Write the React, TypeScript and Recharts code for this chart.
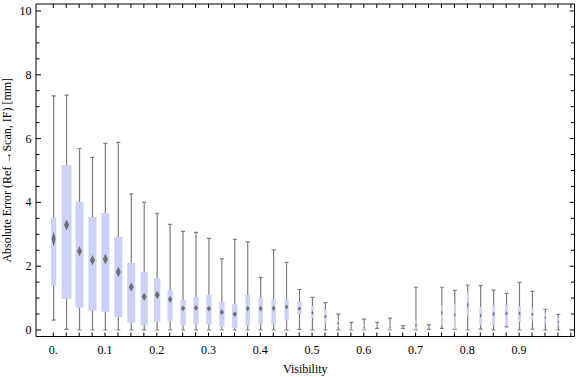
import React from 'react';
import { ComposedChart, Bar, XAxis, YAxis } from 'recharts';

const visibility = [0, 0.025, 0.05, 0.075, 0.1, 0.125, 0.15, 0.175, 0.2, 0.225, 0.25, 0.275, 0.3, 0.325, 0.35, 0.375, 0.4, 0.425, 0.45, 0.475, 0.5, 0.525, 0.55, 0.575, 0.6, 0.625, 0.65, 0.675, 0.7, 0.725, 0.75, 0.775, 0.8, 0.825, 0.85, 0.875, 0.9, 0.925, 0.95, 0.975];

const whiskerLow = [0.31, 0.02, 0, 0, 0, 0, 0, 0, 0, 0, 0, 0, 0, 0, 0, 0, 0, 0, 0, 0.02, 0, 0, 0, 0, 0, 0.05, 0, 0.05, 0, 0.02, 0.05, 0.02, 0, 0.03, 0, 0.1, 0, 0.03, 0, 0];
const quartileLow = [1.39, 0.97, 0.7, 0.61, 0.57, 0.41, 0.23, 0.16, 0.26, 0.29, 0.14, 0.17, 0.17, 0.1, 0.07, 0.14, 0.17, 0.17, 0.29, 0.51, 0.37, 0.2, 0.1, 0.02, 0.0, 0.09, 0.0, 0.07, 0.0, 0.05, 0.16, 0.02, 0.45, 0.16, 0.14, 0.13, 0.26, 0.29, 0.23, 0.16];
const meanValue = [2.85, 3.29, 2.47, 2.19, 2.22, 1.82, 1.35, 1.04, 1.1, 0.96, 0.68, 0.69, 0.67, 0.56, 0.5, 0.67, 0.67, 0.68, 0.72, 0.67, 0.54, 0.42, 0.21, 0.07, 0.08, 0.12, 0.08, 0.1, 0.15, 0.08, 0.54, 0.47, 0.78, 0.45, 0.5, 0.52, 0.52, 0.49, 0.39, 0.26];
const quartileHigh = [3.52, 5.17, 4.01, 3.54, 3.67, 2.92, 2.1, 1.82, 1.63, 1.25, 0.94, 1.03, 1.1, 0.88, 0.82, 1.1, 1.03, 0.97, 0.97, 0.88, 0.75, 0.63, 0.33, 0.14, 0.18, 0.15, 0.18, 0.12, 0.31, 0.12, 0.78, 0.82, 1.18, 0.72, 0.78, 0.78, 0.75, 0.68, 0.54, 0.39];
const whiskerHigh = [7.34, 7.36, 5.69, 5.41, 5.85, 5.88, 4.27, 4.0, 3.66, 3.31, 3.09, 3.06, 2.87, 2.23, 2.84, 2.76, 1.65, 2.51, 2.12, 1.27, 1.02, 0.86, 0.5, 0.24, 0.34, 0.24, 0.37, 0.14, 1.34, 0.16, 1.34, 1.24, 1.41, 1.39, 1.25, 1.15, 1.49, 1.21, 0.65, 0.49];
const meanHalfCI = [0.24, 0.17, 0.16, 0.16, 0.17, 0.17, 0.14, 0.13, 0.13, 0.11, 0.09, 0.09, 0.09, 0.09, 0.09, 0.09, 0.09, 0.09, 0.08, 0.07, 0.06, 0.06, 0.05, 0.04, 0.04, 0.03, 0.04, 0.02, 0.06, 0.02, 0.08, 0.08, 0.1, 0.07, 0.07, 0.07, 0.06, 0.06, 0.05, 0.04];
// relative sample size (box width as a fraction of bin spacing)
const sampleWeight = [0.44, 0.85, 0.69, 0.69, 0.69, 0.69, 0.69, 0.62, 0.54, 0.46, 0.46, 0.46, 0.46, 0.46, 0.46, 0.38, 0.38, 0.38, 0.38, 0.36, 0.23, 0.23, 0.15, 0.12, 0.12, 0.08, 0.12, 0.08, 0.12, 0.08, 0.15, 0.15, 0.18, 0.21, 0.23, 0.23, 0.25, 0.18, 0.15, 0.18];

const xTicks = [0, 0.025, 0.05, 0.075, 0.1, 0.125, 0.15, 0.175, 0.2, 0.225, 0.25, 0.275, 0.3, 0.325, 0.35, 0.375, 0.4, 0.425, 0.45, 0.475, 0.5, 0.525, 0.55, 0.575, 0.6, 0.625, 0.65, 0.675, 0.7, 0.725, 0.75, 0.775, 0.8, 0.825, 0.85, 0.875, 0.9, 0.925, 0.95, 0.975, 1.0];
const xLabelTicks = [0, 0.1, 0.2, 0.3, 0.4, 0.5, 0.6, 0.7, 0.8, 0.9];
const yTicks = [0, 0.5, 1, 1.5, 2, 2.5, 3, 3.5, 4, 4.5, 5, 5.5, 6, 6.5, 7, 7.5, 8, 8.5, 9, 9.5, 10];
const yLabelTicks = [0, 2, 4, 6, 8, 10];

const data = visibility.map((v, i) => ({
  v,
  whisker: [whiskerLow[i], whiskerHigh[i]],
  wLo: whiskerLow[i],
  wHi: whiskerHigh[i],
  q1: quartileLow[i],
  q3: quartileHigh[i],
  mean: meanValue[i],
  ci: meanHalfCI[i],
  weight: sampleWeight[i],
}));

const FONT = "'Liberation Serif', 'Times New Roman', Times, serif";
const BOX_FILL = '#CCD2F7';
const WHISKER = '#7d7d7d';
const DIAMOND = '#6f6f6f';

const fmtX = (v: number) => (v === 0 ? '0.' : String(v));

function BoxWhisker(props: any) {
  const { x, y, width, height, payload } = props;
  if (!payload || !isFinite(x) || !isFinite(y) || !isFinite(height)) return null;
  const lo = payload.wLo;
  const hi = payload.wHi;
  const span = hi - lo;
  if (span <= 0) return null;
  const toPx = (val: number) => y + (height * (hi - val)) / span;
  const cx = x + width / 2;
  const bw = width * payload.weight;
  const yQ3 = toPx(payload.q3);
  const yQ1 = toPx(payload.q1);
  const yM = toPx(payload.mean);
  const yMt = toPx(payload.mean + payload.ci);
  const yMb = toPx(payload.mean - payload.ci);
  const dw = Math.min(5, bw * 0.8);
  const yTop = toPx(hi);
  const yBot = toPx(lo);
  return (
    <g>
      <line x1={cx} x2={cx} y1={yTop} y2={yBot} stroke={WHISKER} strokeWidth={1.2} />
      <line x1={cx - 2} x2={cx + 2} y1={yTop} y2={yTop} stroke={WHISKER} strokeWidth={1.2} />
      <line x1={cx - 2} x2={cx + 2} y1={yBot} y2={yBot} stroke={WHISKER} strokeWidth={1.2} />
      <rect x={cx - bw / 2} y={yQ3} width={bw} height={Math.max(0, yQ1 - yQ3)} fill={BOX_FILL} />
      <polygon
        points={`${cx},${yMt} ${cx + dw / 2},${yM} ${cx},${yMb} ${cx - dw / 2},${yM}`}
        fill={DIAMOND}
      />
    </g>
  );
}

function BottomTick(props: any) {
  const { x, y, payload } = props;
  const v = payload.value;
  const labelled = xLabelTicks.includes(v);
  return (
    <g>
      <line x1={x} x2={x} y1={y} y2={y - 4} stroke="#000" strokeWidth={1} />
      {labelled && (
        <text x={x} y={y + 17.3} textAnchor="middle" fontSize={12} fontFamily={FONT} fill="#000">
          {fmtX(v)}
        </text>
      )}
    </g>
  );
}

function TopTick(props: any) {
  const { x, y } = props;
  return <line x1={x} x2={x} y1={y} y2={y + 4} stroke="#000" strokeWidth={1} />;
}

function LeftTick(props: any) {
  const { x, y, payload } = props;
  const v = payload.value;
  const major = yLabelTicks.includes(v);
  return (
    <g>
      <line x1={x} x2={x + (major ? 5 : 3.5)} y1={y} y2={y} stroke="#000" strokeWidth={1} />
      {major && (
        <text x={x - 4.5} y={y + 4} textAnchor="end" fontSize={12} fontFamily={FONT} fill="#000">
          {String(v)}
        </text>
      )}
    </g>
  );
}

function RightTick(props: any) {
  const { x, y, payload } = props;
  const major = yLabelTicks.includes(payload.value);
  return <line x1={x} x2={x - (major ? 5 : 3.5)} y1={y} y2={y} stroke="#000" strokeWidth={1} />;
}

export default function App() {
  return (
    <div style={{ position: 'absolute', left: 0, top: 0, width: 576, height: 377, background: '#fff' }}>
      <ComposedChart width={576} height={377} data={data} margin={{ top: 3, right: 0.5, left: 0, bottom: 0 }}>
        <XAxis
          dataKey="v"
          type="number"
          domain={[-0.0334, 1.007]}
          allowDataOverflow
          ticks={xTicks}
          interval={0}
          tickSize={0}
          tickMargin={0}
          tickLine={false}
          tick={BottomTick}
          axisLine={{ stroke: '#000', strokeWidth: 1 }}
          height={40.5}
          label={{ value: 'Visibility', position: 'insideBottom', offset: 4, fontSize: 12, fill: '#000', fontFamily: FONT }}
        />
        <XAxis
          xAxisId="top"
          orientation="top"
          dataKey="v"
          type="number"
          domain={[-0.0334, 1.007]}
          allowDataOverflow
          ticks={xTicks}
          interval={0}
          tickSize={0}
          tickMargin={0}
          tickLine={false}
          tick={TopTick}
          axisLine={{ stroke: '#000', strokeWidth: 1 }}
          height={1}
        />
        <YAxis
          type="number"
          domain={[-0.204, 10.219]}
          allowDataOverflow
          ticks={yTicks}
          interval={0}
          tickSize={0}
          tickMargin={0}
          tickLine={false}
          tick={LeftTick}
          axisLine={{ stroke: '#000', strokeWidth: 1 }}
          width={36}
          label={{
            value: 'Absolute Error (Ref \u2192Scan, IF) [mm]',
            angle: -90,
            position: 'insideLeft',
            offset: 6.5,
            fontSize: 12,
            fill: '#000',
            fontFamily: FONT,
            style: { textAnchor: 'middle' },
          }}
        />
        <YAxis
          yAxisId="right"
          orientation="right"
          type="number"
          domain={[-0.204, 10.219]}
          allowDataOverflow
          ticks={yTicks}
          interval={0}
          tickSize={0}
          tickMargin={0}
          tickLine={false}
          tick={RightTick}
          axisLine={{ stroke: '#000', strokeWidth: 1 }}
          width={1}
        />
        <Bar dataKey="whisker" barSize={13} shape={BoxWhisker} isAnimationActive={false} />
      </ComposedChart>
    </div>
  );
}
